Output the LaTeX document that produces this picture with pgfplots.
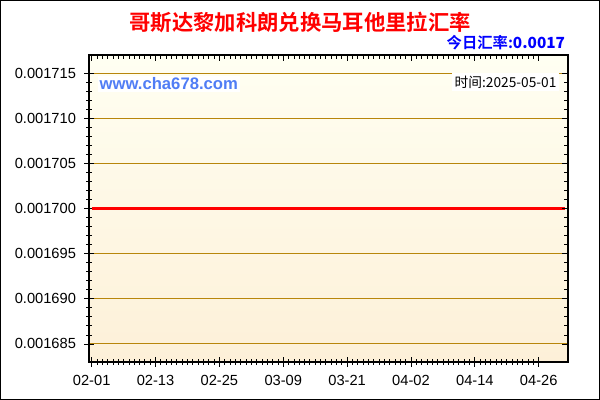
\documentclass[border=0pt]{standalone}
\usepackage{fontspec}
\setmainfont{Liberation Sans}
\newfontfamily\cjk{Noto Sans CJK SC}
\newfontfamily\cjkb{Noto Sans CJK SC Bold}
\usepackage{pgfplots}
\pgfplotsset{compat=1.18}

\definecolor{gridc}{RGB}{184,134,11}
\definecolor{bgtop}{RGB}{255,255,242}
\definecolor{bgbot}{RGB}{253,240,216}
\definecolor{webblue}{RGB}{80,125,245}

\pgfplotsset{
  baseframe/.style={
    scale only axis,
    at={(66.75pt,28.5pt)}, anchor=south west,
    width=359.25pt, height=230.25pt,
    xmin=-0.5, xmax=89.5,
    ymin=0.001683, ymax=0.001717,
    xtick={0,12,...,84},
    minor x tick num=11,
    ytick={0.001685,0.00169,0.001695,0.0017,0.001705,0.00171,0.001715},
    minor y tick num=4,
    scaled y ticks=false,
    axis line style={black, line width=0.9pt},
    tick style={black, line width=0.6pt},
  },
}

\begin{document}
\begin{tikzpicture}
\useasboundingbox (0,0) rectangle (450pt,300pt);

% main chart
\begin{axis}[
  baseframe,
  xtick pos=bottom, ytick pos=left,
  tick align=center,
  major tick length=7.5pt,
  minor tick length=4.5pt,
  xticklabels={02-01,02-13,02-25,03-09,03-21,04-02,04-14,04-26},
  ymajorgrids,
  major grid style={color=gridc, line width=0.8pt},
  axis background/.style={shade, top color=bgtop, bottom color=bgbot},
  tick label style={font=\fontsize{11}{13}\selectfont},
  y tick label style={xshift=-2.5pt},
  x tick label style={yshift=-2.5pt},
  y tick label style={/pgf/number format/.cd, fixed, fixed zerofill, precision=6, assume math mode=true, /tikz/.cd},
]
\addplot[red, line width=2.3pt] table {
x y
0 0.0017
12 0.0017
24 0.0017
36 0.0017
48 0.0017
60 0.0017
72 0.0017
84 0.0017
89 0.0017
};
\end{axis}

% inward ticks on top and right
\begin{axis}[
  baseframe,
  xtick pos=right, ytick pos=right,
  tick align=inside,
  major tick length=4.5pt,
  minor tick length=3pt,
  xticklabels={}, yticklabels={},
]
\end{axis}

% texts
\node[text=red] at (225pt,283.5pt) {\cjkb\fontsize{16}{18}\selectfont 哥斯达黎加科朗兑换马耳他里拉汇率};
\node[text=blue, anchor=east, inner sep=0pt] at (424pt,267.75pt) {\cjkb\fontsize{11.5}{13}\selectfont 今日汇率:\bfseries 0.0017};
\node[text=webblue, anchor=west, fill=white, inner sep=1.5pt] at (73pt,237pt) {\bfseries\fontsize{12.5}{14}\selectfont www.cha678.com};
\node[anchor=east, fill=white, inner sep=2pt] at (419.5pt,238.5pt) {\cjk\fontsize{10.3}{12}\selectfont 时间:2025-05-01};

% outer frame
\draw[black, line width=0.9pt] (0.45pt,0.45pt) rectangle (449.55pt,299.55pt);
\end{tikzpicture}
\end{document}
